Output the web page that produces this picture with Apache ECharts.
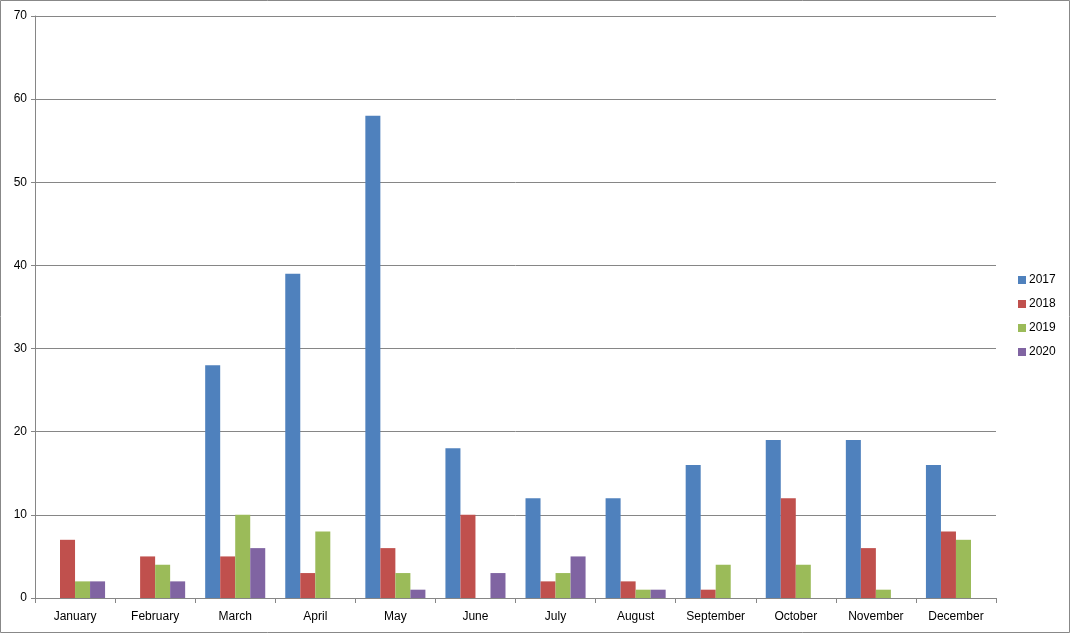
<!DOCTYPE html>
<html><head><meta charset="utf-8">
<script src="https://cdn.jsdelivr.net/npm/echarts@6/dist/echarts.min.js"></script>
<style>html,body{margin:0;padding:0;background:#fff}#c{width:1071px;height:634px}</style>
</head><body><div id="c"></div>
<script>
const categories = ['January','February','March','April','May','June','July','August','September','October','November','December'];
const s2017 = [0,0,28,39,58,18,12,12,16,19,19,16];
const s2018 = [7,5,5,3,6,10,2,2,1,12,6,8];
const s2019 = [2,4,10,8,3,0,3,1,4,4,1,7];
const s2020 = [2,2,6,0,1,3,5,1,0,0,0,0];
const seriesNames = ['2017','2018','2019','2020'];
const colors = ['#4F81BD','#C0504D','#9BBB59','#8064A2'];
const allData = [s2017,s2018,s2019,s2020];

const chart = echarts.init(document.getElementById('c'));
const font = 'Liberation Sans, Arial, sans-serif';
chart.setOption({
  animation:false,
  textStyle:{fontFamily:font},
  graphic:[{type:'rect',shape:{x:0.5,y:0.5,width:1069,height:632},style:{fill:'none',stroke:'#888',lineWidth:1},silent:true}],
  grid:{left:35,right:75,top:16,bottom:36,containLabel:false},
  legend:{orient:'vertical',left:1013,top:269,itemWidth:8,itemHeight:8,itemGap:12,icon:'rect',
    textStyle:{fontSize:12,color:'#000',fontFamily:font,padding:[0,0,0,-2]},data:seriesNames},
  xAxis:{type:'category',data:categories,
    axisLine:{lineStyle:{color:'#868686'}},
    axisTick:{show:true,alignWithLabel:false,length:5,lineStyle:{color:'#868686'}},
    axisLabel:{color:'#000',fontSize:12,margin:13,fontFamily:font}},
  yAxis:{type:'value',min:0,max:70,interval:10,
    axisLine:{show:true,lineStyle:{color:'#868686'}},
    axisTick:{show:true,length:4,lineStyle:{color:'#868686'}},
    splitLine:{lineStyle:{color:'#868686'}},
    axisLabel:{color:'#000',fontSize:12,margin:8,fontFamily:font}},
  series:seriesNames.map((n,i)=>({name:n,type:'bar',data:allData[i],barGap:'0%',barCategoryGap:'25%',
    itemStyle:{color:colors[i]}}))
});
</script></body></html>
